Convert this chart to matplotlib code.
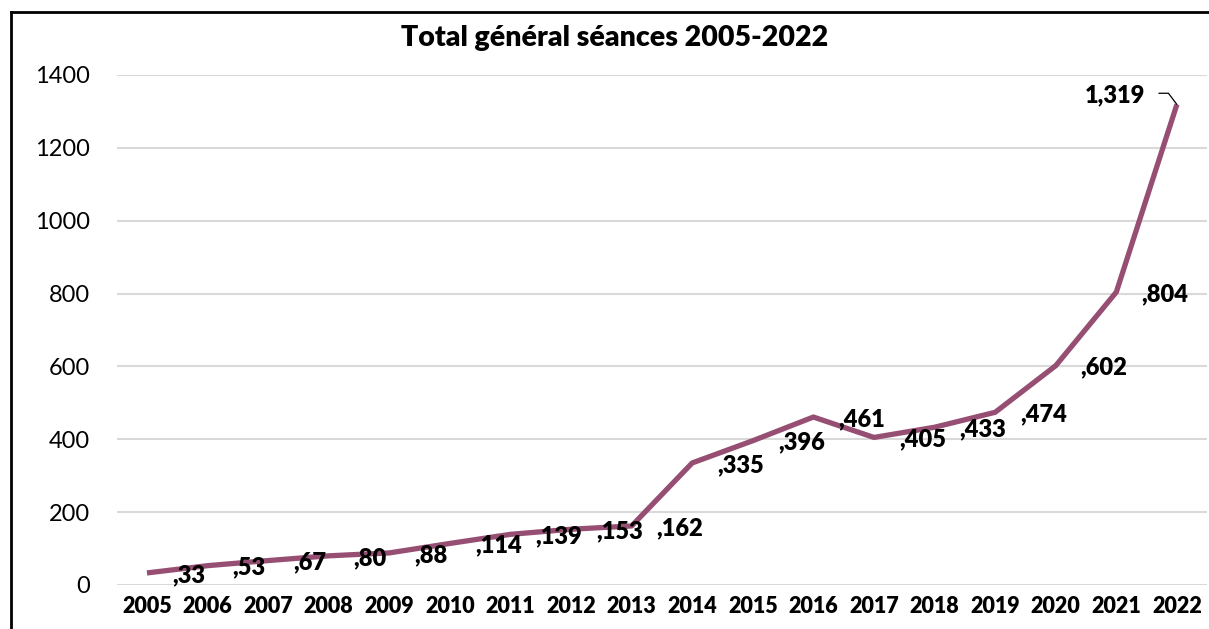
import matplotlib.pyplot as plt
from matplotlib.lines import Line2D

years = ["2005", "2006", "2007", "2008", "2009", "2010", "2011", "2012", "2013",
         "2014", "2015", "2016", "2017", "2018", "2019", "2020", "2021", "2022"]
seances = [33, 53, 67, 80, 88, 114, 139, 153, 162,
           335, 396, 461, 405, 433, 474, 602, 804, 1319]
labels = [",33", ",53", ",67", ",80", ",88", ",114", ",139", ",153", ",162",
          ",335", ",396", ",461", ",405", ",433", ",474", ",602", ",804", "1,319"]
yticks = [0, 200, 400, 600, 800, 1000, 1200, 1400]

plt.rcParams['font.family'] = ['Lato', 'DejaVu Sans']
W = "heavy"

fig = plt.figure(figsize=(12.09, 6.29), dpi=100)
ax = fig.add_axes([0.0965, 0.070, 0.902, 0.8108])

x = list(range(len(years)))
ax.plot(x, seances, color="#964F72", linewidth=3.8, solid_capstyle="butt")

ax.set_xlim(-0.5, len(years) - 0.5)
ax.set_ylim(0, 1400)
ax.set_yticks(yticks)
ax.set_yticklabels([str(v) for v in yticks], fontsize=17)
ax.set_xticks(x)
ax.set_xticklabels(years, fontsize=15.5, fontweight=W)
ax.tick_params(axis="y", length=0, pad=19)
ax.tick_params(axis="x", length=0, pad=8)
ax.grid(axis="y", color="#d9d9d9", linewidth=1.5)
ax.set_axisbelow(True)
for s in ax.spines.values():
    s.set_visible(False)

# data labels, shifted right of each point like the original
for i, (v, lab) in enumerate(zip(seances, labels)):
    if i == len(seances) - 1:
        ax.annotate(lab, xy=(i, v), xytext=(-23, 6.5), textcoords="offset points",
                    ha="right", va="center", fontsize=17, fontweight=W,
                    arrowprops=dict(arrowstyle="-", color="black", lw=0.9,
                                    relpos=(1.0, 0.6), shrinkA=8, shrinkB=0,
                                    connectionstyle="angle,angleA=0,angleB=127,rad=0"))
    else:
        ax.annotate(lab, xy=(i, v), xytext=(18, -1.5), textcoords="offset points",
                    ha="left", va="center", fontsize=17, fontweight=W)

fig.text(0.508, 0.94, "Total général séances 2005-2022", ha="center", va="center",
         fontsize=20.5, fontweight=W)

# frame lines (top and left edges of the chart box)
fig.add_artist(Line2D([0.0095, 1.0], [0.981, 0.981], transform=fig.transFigure,
                      color="black", linewidth=2))
fig.add_artist(Line2D([0.0095, 0.0095], [0.0, 0.981], transform=fig.transFigure,
                      color="black", linewidth=2))

fig.savefig("out.png", dpi=100)
